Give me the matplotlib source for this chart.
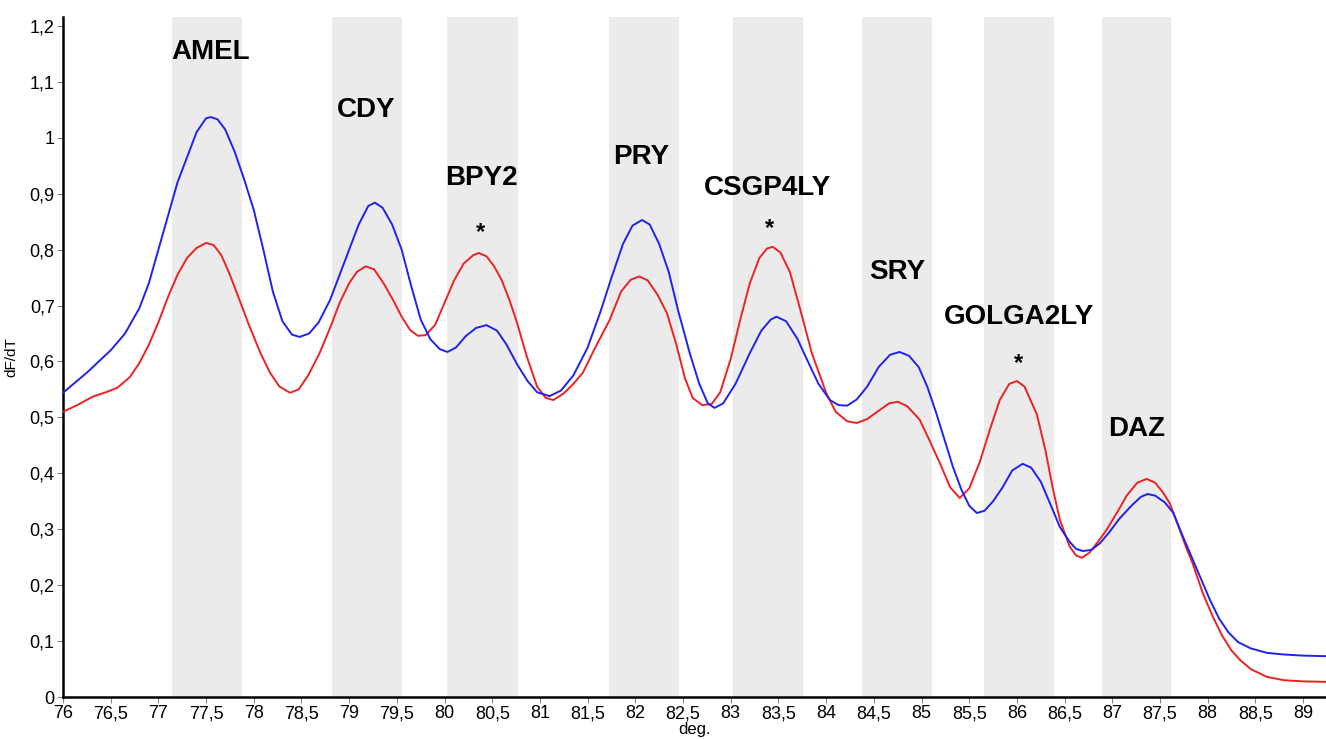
import numpy as np
import matplotlib
matplotlib.use('Agg')
from matplotlib import pyplot as plt

plt.rcParams['font.family'] = ['Liberation Sans', 'DejaVu Sans']

# blue curve
blue_x = [76.0, 76.25, 76.5, 76.65, 76.8, 76.9, 77.0, 77.1, 77.2, 77.3, 77.4, 77.5, 77.55,
          77.62, 77.7, 77.8, 77.9, 78.0, 78.1, 78.2, 78.3, 78.4, 78.48, 78.58, 78.68, 78.8,
          78.9, 79.0, 79.1, 79.2, 79.27, 79.35, 79.45, 79.55, 79.65, 79.75, 79.85, 79.95,
          80.03, 80.12, 80.22, 80.33, 80.44, 80.55, 80.65, 80.76, 80.87, 80.97, 81.1, 81.22,
          81.35, 81.5, 81.63, 81.75, 81.87, 81.97, 82.07, 82.15, 82.25, 82.35, 82.45, 82.57,
          82.67, 82.76, 82.83, 82.92, 83.05, 83.2, 83.32, 83.42, 83.48, 83.58, 83.7, 83.8,
          83.92, 84.04, 84.13, 84.22, 84.32, 84.43, 84.55, 84.67, 84.77, 84.87, 84.97, 85.06,
          85.15, 85.25, 85.33, 85.42, 85.5, 85.58, 85.66, 85.75, 85.85, 85.95, 86.06, 86.15,
          86.25, 86.35, 86.45, 86.55, 86.62, 86.69, 86.78, 86.87, 86.97, 87.07, 87.2, 87.3,
          87.37, 87.45, 87.55, 87.64, 87.72, 87.82, 87.92, 88.02, 88.12, 88.22, 88.32, 88.45,
          88.62, 88.8, 89.0, 89.24]
blue_y = [0.544, 0.58, 0.62, 0.65, 0.695, 0.74, 0.80, 0.86, 0.92, 0.965, 1.01, 1.035, 1.037,
          1.033, 1.015, 0.975, 0.925, 0.871, 0.80, 0.725, 0.672, 0.648, 0.644, 0.65, 0.67, 0.71,
          0.755, 0.80, 0.845, 0.878, 0.884, 0.875, 0.845, 0.80, 0.735, 0.675, 0.64, 0.622,
          0.617, 0.625, 0.645, 0.66, 0.665, 0.655, 0.63, 0.595, 0.565, 0.545, 0.538, 0.548,
          0.575, 0.625, 0.687, 0.75, 0.81, 0.843, 0.853, 0.845, 0.81, 0.76, 0.69, 0.615,
          0.56, 0.525, 0.517, 0.525, 0.56, 0.615, 0.655, 0.675, 0.68, 0.672, 0.64, 0.603,
          0.56, 0.531, 0.522, 0.521, 0.532, 0.555, 0.59, 0.612, 0.617, 0.61, 0.59, 0.555,
          0.51, 0.455, 0.411, 0.37, 0.342, 0.329, 0.333, 0.35, 0.375, 0.405, 0.417, 0.41,
          0.385, 0.345, 0.304, 0.278, 0.265, 0.261, 0.263, 0.275, 0.295, 0.318, 0.342, 0.358,
          0.363, 0.36, 0.348, 0.329, 0.295, 0.255, 0.215, 0.175, 0.14, 0.115, 0.098, 0.087,
          0.079, 0.076, 0.074, 0.073]

# red curve
red_x = [76.0, 76.15, 76.31, 76.45, 76.57, 76.7, 76.8, 76.9, 77.0, 77.1, 77.2, 77.3, 77.4,
         77.5, 77.58, 77.66, 77.75, 77.85, 77.95, 78.07, 78.17, 78.27, 78.38, 78.47, 78.57,
         78.69, 78.8, 78.9, 79.0, 79.08, 79.17, 79.26, 79.36, 79.46, 79.55, 79.64, 79.72,
         79.8, 79.9, 80.0, 80.1, 80.2, 80.3, 80.36, 80.44, 80.52, 80.6, 80.68, 80.76, 80.86,
         80.97, 81.06, 81.14, 81.25, 81.35, 81.45, 81.58, 81.73, 81.85, 81.95, 82.04, 82.13,
         82.23, 82.33, 82.43, 82.52, 82.6, 82.7, 82.8, 82.89, 83.0, 83.1, 83.2, 83.3, 83.38,
         83.44, 83.52, 83.62, 83.73, 83.85, 84.0, 84.1, 84.22, 84.32, 84.43, 84.56, 84.66,
         84.75, 84.85, 84.98, 85.08, 85.19, 85.3, 85.4, 85.5, 85.61, 85.72, 85.82, 85.92,
         86.0, 86.08, 86.21, 86.3, 86.38, 86.45, 86.55, 86.62, 86.68, 86.76, 86.86, 86.94,
         87.05, 87.15, 87.26, 87.36, 87.45, 87.53, 87.6, 87.7, 87.78, 87.84, 87.95, 88.05,
         88.15, 88.25, 88.34, 88.45, 88.62, 88.8, 89.0, 89.24]
red_y = [0.51, 0.522, 0.537, 0.545, 0.553, 0.572, 0.597, 0.63, 0.67, 0.715, 0.755, 0.785, 0.803,
         0.812, 0.808, 0.79, 0.755, 0.71, 0.665, 0.615, 0.58, 0.555, 0.544, 0.55, 0.575,
         0.615, 0.66, 0.705, 0.74, 0.76, 0.77, 0.765, 0.74, 0.71, 0.68, 0.656, 0.646,
         0.647, 0.665, 0.705, 0.745, 0.775, 0.79, 0.794, 0.788, 0.77, 0.745, 0.71, 0.669, 0.61,
         0.555, 0.535, 0.531, 0.543, 0.56, 0.58, 0.625, 0.674, 0.725, 0.746, 0.752, 0.745,
         0.72, 0.687, 0.63, 0.57, 0.535, 0.522, 0.524, 0.545, 0.605, 0.675, 0.74, 0.785, 0.802,
         0.805, 0.795, 0.76, 0.692, 0.615, 0.544, 0.51, 0.493, 0.49, 0.497, 0.513, 0.525,
         0.528, 0.52, 0.496, 0.46, 0.419, 0.375, 0.356, 0.373, 0.42, 0.48, 0.531, 0.56,
         0.565, 0.555, 0.505, 0.44, 0.37, 0.317, 0.27, 0.253, 0.249, 0.258, 0.28, 0.299,
         0.33, 0.36, 0.383, 0.39, 0.383, 0.366, 0.347, 0.302, 0.265, 0.24, 0.185, 0.145,
         0.11, 0.083, 0.066, 0.05, 0.036, 0.03, 0.028, 0.027]

# gene bands
genes = ['AMEL', 'CDY', 'BPY2', 'PRY', 'CSGP4LY', 'SRY', 'GOLGA2LY', 'DAZ']
band_start = [77.14, 78.82, 80.03, 81.72, 83.02, 84.38, 85.65, 86.89]
band_end = [77.88, 79.55, 80.77, 82.46, 83.76, 85.11, 86.39, 87.62]
label_x = [77.55, 79.18, 80.39, 82.06, 83.385, 84.74, 86.02, 87.25]
label_y = [1.154, 1.05, 0.928, 0.966, 0.91, 0.76, 0.68, 0.479]
star_x = [80.38, 83.41, 86.02]
star_y = [0.83, 0.837, 0.597]

fig = plt.figure(figsize=(13.26, 7.39), dpi=100)
ax = fig.add_axes([63/1326, 1-697/739, 1-63/1326, (697-17)/739])

for s, e in zip(band_start, band_end):
    ax.axvspan(s, e, color='#ebebeb', lw=0, zorder=0)

ax.plot(red_x, red_y, color='#ee2222', lw=1.4, zorder=3)
ax.plot(blue_x, blue_y, color='#2222ee', lw=1.4, zorder=4)

for g, lx, ly in zip(genes, label_x, label_y):
    ax.text(lx, ly, g, ha='center', va='center', fontsize=20, fontweight='bold', zorder=5)
for sx, sy in zip(star_x, star_y):
    ax.text(sx, sy, '*', ha='center', va='center', fontsize=17, fontweight='bold', zorder=5)

ax.set_xlim(76, 89.24)
ax.set_ylim(0, 1.216)
xt = np.arange(76, 89.01, 0.5)
ax.set_xticks(xt)
ax.set_xticklabels([('%g' % v).replace('.', ',') for v in xt])
yt = np.arange(0, 1.201, 0.1)
ax.set_yticks(yt)
ax.set_yticklabels([('%g' % round(v, 1)).replace('.', ',') for v in yt])
ax.tick_params(labelsize=13, length=4, color='#888888', pad=2)

for side in ['top', 'right']:
    ax.spines[side].set_visible(False)
for side in ['left', 'bottom']:
    ax.spines[side].set_linewidth(1.8)

ax.set_xlabel('deg.', fontsize=12, labelpad=0)
ax.set_ylabel('dF/dT', fontsize=11, labelpad=8)

plt.savefig('out.png', dpi=100)
